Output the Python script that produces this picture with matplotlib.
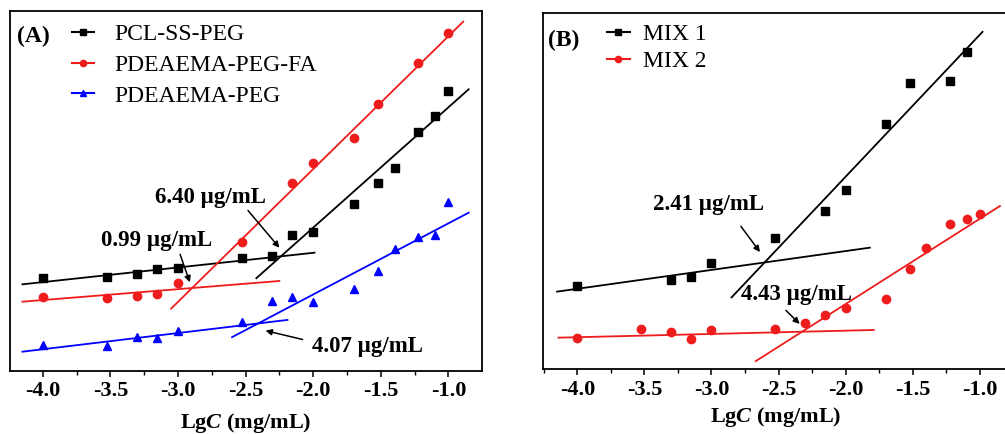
import numpy as np
import matplotlib
matplotlib.use("Agg")
import matplotlib.pyplot as plt
from matplotlib.lines import Line2D
from matplotlib.ticker import MultipleLocator

plt.rcParams['font.family'] = ['Liberation Serif', 'DejaVu Serif']
plt.rcParams['mathtext.fontset'] = 'custom'
plt.rcParams['mathtext.it'] = 'Liberation Serif:italic:bold'
plt.rcParams['mathtext.rm'] = 'Liberation Serif:bold'

RED = '#ee1c1c'
BLUE = '#0000ff'

# concentrations (mg/mL), plotted as lg C
conc_all = [1e-4, 3e-4, 5e-4, 7e-4, 1e-3, 3e-3, 5e-3, 7e-3, 1e-2, 2e-2, 3e-2, 4e-2, 6e-2, 8e-2, 1e-1]
conc_fa = [1e-4, 3e-4, 5e-4, 7e-4, 1e-3, 3e-3, 7e-3, 1e-2, 2e-2, 3e-2, 6e-2, 1e-1]
conc_mix1 = [1e-4, 5e-4, 7e-4, 1e-3, 3e-3, 7e-3, 1e-2, 2e-2, 3e-2, 6e-2, 8e-2]

# panel A intensities (arbitrary units)
pcl_ss_peg = [2.62, 2.65, 2.73, 2.87, 2.92, 3.19, 3.25, 3.82, 3.90, 4.68, 5.27, 5.69, 6.68, 7.12, 7.81]
pdeaema_peg_fa = [2.11, 2.07, 2.14, 2.19, 2.48, 3.63, 5.26, 5.83, 6.50, 7.46, 8.58, 9.41]
pdeaema_peg = [0.78, 0.76, 1.01, 0.96, 1.17, 1.40, 2.00, 2.11, 1.98, 2.32, 2.83, 3.43, 3.76, 3.82, 4.75]

# panel B intensities
mix1 = [2.34, 2.51, 2.60, 2.99, 3.69, 4.44, 5.04, 6.88, 8.05, 8.10, 8.92]
mix2 = [0.89, 1.12, 1.06, 0.85, 1.10, 1.13, 1.31, 1.53, 1.71, 1.97, 2.83, 3.42, 4.07, 4.21, 4.36]

# fit lines: slope, intercept, x start, x end
fit_pcl = [(0.406, 4.141, -4.15, -1.99), (3.333, 10.692, -2.42, -0.85)]
fit_fa = [(0.302, 3.228, -4.15, -2.25), (3.681, 13.011, -3.05, -0.89)]
fit_peg = [(0.449, 2.453, -4.15, -2.19), (1.971, 6.116, -2.60, -0.85)]
fit_mix1 = [(0.530, 4.381, -4.15, -1.82), (3.989, 13.388, -2.85, -0.98)]
fit_mix2 = [(0.092, 1.269, -4.14, -1.79), (2.395, 6.623, -2.67, -0.85)]

# CMC labels: text, text position, arrow tail, arrow head
cmc_a = [("6.40 µg/mL", (-2.76, 4.85), (-2.495, 4.56), (-2.236, 3.41)),
         ("0.99 µg/mL", (-3.16, 3.67), (-2.991, 3.36), (-2.905, 2.44)),
         ("4.07 µg/mL", (-1.60, 0.73), (-2.058, 0.91), (-2.372, 1.19))]
cmc_b = [("2.41 µg/mL", (-3.02, 4.62), (-2.793, 4.08), (-2.626, 3.23)),
         ("4.43 µg/mL", (-2.37, 2.09), (-2.460, 1.71), (-2.328, 1.22))]


def draw_fits(ax, fits, color):
    for k, b, x0, x1 in fits:
        xs = np.array([x0, x1])
        ax.plot(xs, k * xs + b, color=color, lw=1.3)


def draw_cmc(ax, labels):
    for txt, pos, tail, head in labels:
        ax.text(pos[0], pos[1], txt, ha='center', va='center', fontsize=16.5, fontweight='bold')
        ax.annotate('', xy=head, xytext=tail,
                    arrowprops=dict(arrowstyle='-|>', color='k', lw=1.1, mutation_scale=9))


def style(ax, xlim, ylim, labelpad):
    ax.set_xlim(*xlim)
    ax.set_ylim(*ylim)
    ax.xaxis.set_minor_locator(MultipleLocator(0.25))
    ax.set_xticks(np.arange(-4.0, -0.99, 0.5))
    ax.set_xticklabels(['%.1f' % v for v in np.arange(-4.0, -0.99, 0.5)])
    ax.tick_params(axis='x', which='major', direction='out', length=4.5, width=1.1,
                   labelsize=16, pad=3)
    ax.tick_params(axis='x', which='minor', direction='out', length=2.8, width=1.0)
    for lab in ax.get_xticklabels():
        lab.set_fontweight('bold')
    ax.tick_params(axis='y', left=False, labelleft=False)
    for sp in ax.spines.values():
        sp.set_linewidth(1.3)
    ax.set_xlabel('Lg$C$ (mg/mL)', fontsize=16, fontweight='bold', labelpad=labelpad)


fig = plt.figure(figsize=(10.05, 4.34), dpi=100)
axA = fig.add_axes([0.00995, 0.1452, 0.4694, 0.8295])
axB = fig.add_axes([0.5406, 0.1491, 0.4624, 0.8203])

# panel A
xa = np.log10(conc_all)
xfa = np.log10(conc_fa)
axA.plot(xa, pcl_ss_peg, 's', color='k', ms=5.5, ls='none')
axA.plot(xfa, pdeaema_peg_fa, 'o', color=RED, ms=6, ls='none')
axA.plot(xa, pdeaema_peg, '^', color=BLUE, ms=6, ls='none')
draw_fits(axA, fit_pcl, 'k')
draw_fits(axA, fit_fa, RED)
draw_fits(axA, fit_peg, BLUE)
draw_cmc(axA, cmc_a)
style(axA, (-4.242, -0.753), (0.055, 10.03), 7)
axA.text(0.049, 0.93, '(A)', transform=axA.transAxes, ha='center', va='center',
         fontsize=17, fontweight='bold')
handles = [Line2D([], [], color='k', marker='s', ms=4, lw=1.5),
           Line2D([], [], color=RED, marker='o', ms=4.5, lw=1.5),
           Line2D([], [], color=BLUE, marker='^', ms=4.5, lw=1.5)]
axA.legend(handles, ['PCL-SS-PEG', 'PDEAEMA-PEG-FA', 'PDEAEMA-PEG'], loc='upper left',
           bbox_to_anchor=(0.131, 0.965), frameon=False, borderpad=0, borderaxespad=0,
           handlelength=0.95, handletextpad=0.85, labelspacing=0.39, fontsize=17)

# panel B
xm1 = np.log10(conc_mix1)
axB.plot(xm1, mix1, 's', color='k', ms=5.5, ls='none')
axB.plot(xa, mix2, 'o', color=RED, ms=6, ls='none')
draw_fits(axB, fit_mix1, 'k')
draw_fits(axB, fit_mix2, RED)
draw_cmc(axB, cmc_b)
style(axB, (-4.253, -0.79), (0.0, 10.0), 4)
axB.spines['right'].set_visible(False)
axB.text(0.043, 0.925, '(B)', transform=axB.transAxes, ha='center', va='center',
         fontsize=17, fontweight='bold')
handlesB = [Line2D([], [], color='k', marker='s', ms=4, lw=1.5),
            Line2D([], [], color=RED, marker='o', ms=4.5, lw=1.5)]
axB.legend(handlesB, ['MIX 1', 'MIX 2'], loc='upper left',
           bbox_to_anchor=(0.136, 0.97), frameon=False, borderpad=0, borderaxespad=0,
           handlelength=1.0, handletextpad=0.55, labelspacing=0.22, fontsize=17)

fig.savefig('out.png', dpi=100)
